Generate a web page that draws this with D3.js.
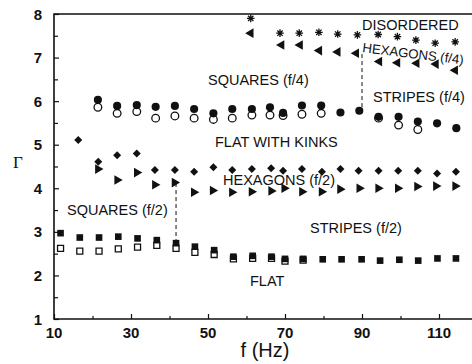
<!DOCTYPE html>
<html>
<head>
<meta charset="utf-8">
<script src="https://cdn.jsdelivr.net/npm/d3@7"></script>
<style>
  body { margin: 0; background: #fff; }
  text { font-family: "Liberation Sans", Arial, sans-serif; fill: #111; }
</style>
</head>
<body>
<div id="chart"></div>
<script>
// data (f in Hz, gamma)
const circF = [21.4, 26.4, 31.5, 36.4, 41.4, 46.4, 51.4, 56.3, 61.4, 66.1, 69.5, 74.4, 79.4, 84.4, 89.3, 94.3, 99.5, 104.5, 109.5, 114.5];
const circFilled = [6.03, 5.89, 5.91, 5.87, 5.89, 5.82, 5.72, 5.82, 5.82, 5.86, 5.73, 5.90, 5.90, 5.74, 5.78, 5.64, 5.64, 5.53, 5.49, 5.38];
const circOpen = [5.86, 5.72, 5.76, 5.61, 5.66, 5.61, 5.58, 5.61, 5.68, 5.68, 5.67, 5.70, 5.72, null, null, 5.61, 5.45, 5.35, null, null];

const sqF = [11.7, 16.7, 21.7, 26.7, 31.7, 36.7, 41.7, 46.6, 51.6, 56.6, 61.6, 66.5, 70.0, 74.7, 79.8, 84.7, 89.9, 94.7, 99.7, 104.6, 109.6, 114.4];
const sqFilled = [2.97, 2.87, 2.87, 2.89, 2.85, 2.81, 2.74, 2.66, 2.58, 2.43, 2.45, 2.43, 2.38, 2.38, 2.37, 2.37, 2.37, 2.34, 2.36, 2.34, 2.39, 2.39];
const sqOpen = [2.62, 2.56, 2.56, 2.61, 2.65, 2.69, 2.62, 2.53, 2.48, 2.38, 2.39, 2.39, 2.33, 2.35, null, null, null, null, null, null, null, null];

const diaF = [16.3, 21.5, 26.4, 31.5, 36.2, 41.4, 46.4, 51.4, 56.3, 61.4, 66.4, 69.5, 74.4, 79.6, 84.4, 89.1, 94.3, 99.4, 104.5, 109.5, 114.4];
const diaVal = [5.11, 4.61, 4.76, 4.80, 4.42, 4.42, 4.38, 4.48, 4.42, 4.44, 4.46, 4.40, 4.44, 4.38, 4.44, 4.40, 4.40, 4.40, 4.40, 4.34, 4.38];

const triRF = [21.4, 26.4, 31.5, 36.2, 41.3, 46.3, 51.2, 56.2, 61.3, 66.4, 69.8, 74.4, 79.5, 84.3, 89.3, 94.2, 99.3, 104.3, 109.2, 114.2];
const triRVal = [4.44, 4.19, 4.36, 4.08, 4.13, 3.91, 3.95, 3.91, 3.92, 3.94, 4.00, 3.92, 3.92, 3.98, 4.00, 4.00, 4.00, 4.04, 4.05, 4.05];

const triLF = [61.1, 69.1, 73.9, 78.9, 83.7, 88.5, 94.5, 99.2, 104.2, 109.2, 114.2];
const triLVal = [7.56, 7.29, 7.29, 7.16, 7.13, 7.10, 6.91, 6.88, 6.87, 6.85, 6.71];

const starF = [61.1, 68.7, 73.7, 78.8, 83.7, 88.8, 94.2, 99.2, 104.0, 109.0, 114.2];
const starVal = [7.90, 7.56, 7.56, 7.58, 7.54, 7.52, 7.53, 7.48, 7.40, 7.33, 7.36];

// dashed transition lines
const dashF = [90, 41.7];
const dashTop = [7.08, 4.12];
const dashBot = [5.80, 2.80];

const xTicks = [10, 30, 50, 70, 90, 110];
const yTicks = [1, 2, 3, 4, 5, 6, 7, 8];

const W = 472, H = 364;
const x = d3.scaleLinear().domain([10, 120]).range([54, 477.5]);
const y = d3.scaleLinear().domain([1, 8]).range([319, 14]);

const svg = d3.select('#chart').append('svg').attr('width', W).attr('height', H);

const zip = (fs, vs) => fs.map((f, i) => ({ f, v: vs[i] })).filter(d => d.v != null);

// frame
svg.append('path')
  .attr('d', `M${x(120)},${y(8)}H${x(10)}V${y(1)}H${x(120)}`)
  .attr('fill', 'none').attr('stroke', '#111').attr('stroke-width', 1.6);

// axes, ticks inward
const xAxis = svg.append('g').attr('transform', `translate(0,${y(1)})`)
  .call(d3.axisBottom(x).tickValues(d3.range(10, 121, 10)).tickSize(-3).tickFormat(''));
xAxis.selectAll('.tick line').attr('y2', d => xTicks.includes(d) ? -5 : -3);
const yAxis = svg.append('g').attr('transform', `translate(${x(10)},0)`)
  .call(d3.axisLeft(y).tickValues(d3.range(1, 8.01, 0.5)).tickSize(-4).tickFormat(''));
[xAxis, yAxis].forEach(a => {
  a.select('.domain').remove();
  a.selectAll('.tick line').attr('stroke', '#111').attr('stroke-width', 1.2);
});
yAxis.selectAll('.tick line').attr('x2', d => Number.isInteger(d) ? 5 : 4);

svg.append('g').selectAll('text').data(xTicks).join('text')
  .attr('x', d => x(d)).attr('y', 338)
  .attr('text-anchor', 'middle').style('font-size', '15px').style('font-weight', 'bold')
  .text(d => d);
svg.append('g').selectAll('text').data(yTicks).join('text')
  .attr('x', 42).attr('y', d => y(d) + 5.5)
  .attr('text-anchor', 'end').style('font-size', '15px').style('font-weight', 'bold')
  .text(d => d);

svg.append('text').attr('x', 265).attr('y', 357).attr('text-anchor', 'middle')
  .style('font-size', '20px').text('f (Hz)');
svg.append('text').attr('x', 18).attr('y', 168).attr('text-anchor', 'middle')
  .style('font-family', '"Liberation Serif", serif').style('font-size', '17px').text('Γ');

// dashed lines
svg.append('g').selectAll('line').data(dashF).join('line')
  .attr('x1', d => x(d)).attr('x2', d => x(d))
  .attr('y1', (d, i) => y(dashTop[i])).attr('y2', (d, i) => y(dashBot[i]))
  .attr('stroke', '#111').attr('stroke-width', 1).attr('stroke-dasharray', '4,3');

const marks = svg.append('g');
const sym = (type, size) => d3.symbol().type(type).size(size)();

function drawSymbols(data, path, fill, stroke, rot) {
  marks.append('g').selectAll('path').data(data).join('path')
    .attr('transform', d => `translate(${x(d.f)},${y(d.v)}) rotate(${rot || 0})`)
    .attr('d', path)
    .attr('fill', fill).attr('stroke', stroke).attr('stroke-width', 1.3);
}

// asterisk with 4 strokes
const starPath = (() => {
  const p = d3.path(), r = 3.8;
  [0, 45, 90, 135].forEach(a => {
    const c = Math.cos(a * Math.PI / 180) * r, s = Math.sin(a * Math.PI / 180) * r;
    p.moveTo(-c, -s); p.lineTo(c, s);
  });
  return p.toString();
})();

drawSymbols(zip(circF, circOpen), sym(d3.symbolCircle, 46), '#fff', '#111');
drawSymbols(zip(circF, circFilled), sym(d3.symbolCircle, 52), '#111', 'none');
drawSymbols(zip(sqF, sqOpen), sym(d3.symbolSquare, 36), '#fff', '#111');
drawSymbols(zip(sqF, sqFilled), sym(d3.symbolSquare, 44), '#111', 'none');
drawSymbols(zip(diaF, diaVal), sym(d3.symbolSquare, 32), '#111', 'none', 45);
drawSymbols(zip(triRF, triRVal), sym(d3.symbolTriangle, 40), '#111', 'none', 90);
drawSymbols(zip(triLF, triLVal), sym(d3.symbolTriangle, 40), '#111', 'none', -90);
drawSymbols(zip(starF, starVal), starPath, 'none', '#111');

// regime labels
const lab = (t, px, py, rot, fs) => svg.append('text')
  .attr('transform', `translate(${px},${py}) rotate(${rot || 0})`)
  .style('font-size', (fs || 14.5) + 'px').text(t);
lab('DISORDERED', x(90), 30);
lab('HEXAGONS (f/4)', x(90), 52, 7, 13.2);
lab('SQUARES (f/4)', 208, 85);
lab('STRIPES (f/4)', 373, 102);
lab('FLAT WITH KINKS', 215, 147);
lab('HEXAGONS (f/2)', 223, 185);
lab('SQUARES (f/2)', 67, 215);
lab('STRIPES (f/2)', 310, 233);
lab('FLAT', 250, 286);
</script>
</body>
</html>
